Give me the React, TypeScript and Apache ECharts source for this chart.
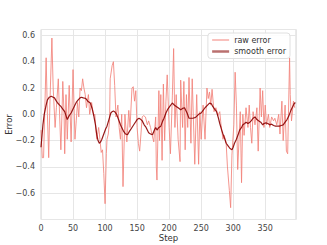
import React, { useEffect, useRef } from "react";
import * as echarts from "echarts";

const rawSteps = [0,2,4,6,8,10,12,14,17,19,22,24,27,29,31,33,34,36,37,39,41,44,47,50,53,55,57,59,61,63,65,67,69,71,74,76,79,82,84,87,90,92,94,96,98,100,102,103,105,107,108,111,113,115,117,120,122,124,126,128,131,134,137,139,142,144,146,148,150,152,154,156,158,160,163,166,168,171,173,176,179,180,181,184,185,187,189,191,193,195,197,200,202,205,207,209,211,214,217,218,221,223,225,227,229,231,234,236,240,243,246,248,250,253,256,259,261,263,265,267,270,273,276,279,281,284,286,289,291,294,296,298,301,303,305,307,309,311,313,315,317,320,323,325,327,329,331,334,337,339,342,344,346,348,350,352,355,357,360,363,365,368,371,373,376,378,381,383,385,388,389,391,394,396];
const rawValues = [-0.12,-0.33,-0.33,0.05,0.43,0.0,-0.33,0.1,0.58,0.2,-0.1,0.05,0.27,0.0,-0.27,0.05,0.25,0.0,-0.3,0.15,-0.19,0.22,-0.21,0.34,-0.19,-0.05,0.09,-0.02,0.2,0.18,0.27,0.2,0.15,0.05,0.15,0.0,0.09,-0.01,0.0,-0.19,-0.1,-0.19,-0.29,-0.27,-0.45,-0.68,-0.3,-0.19,-0.15,-0.05,0.27,0.37,0.4,0.22,-0.02,0.07,-0.1,-0.19,0.0,-0.55,0.0,-0.21,0.03,-0.1,0.2,0.21,0.1,0.18,-0.1,-0.22,-0.28,-0.15,-0.02,-0.01,-0.02,-0.08,-0.05,-0.1,-0.15,-0.21,-0.02,-0.4,-0.5,0.18,-0.2,0.15,-0.35,0.23,-0.2,0.1,0.3,-0.1,-0.3,0.14,0.5,-0.1,0.15,-0.19,-0.36,0.26,-0.1,0.25,-0.27,0.15,-0.1,0.28,-0.22,0.27,-0.38,0.15,-0.38,0.02,-0.19,0.07,-0.19,0.2,0.12,0.17,0.07,0.19,0.02,0.05,-0.01,0.02,-0.08,-0.19,-0.16,-0.22,-0.4,-0.58,-0.71,-0.31,-0.08,0.32,0.07,-0.42,-0.2,0.02,-0.52,0.0,-0.16,0.05,-0.1,0.07,-0.1,-0.22,0.02,-0.08,0.05,-0.28,0.2,-0.02,0.18,-0.1,0.07,-0.08,0.0,-0.1,-0.02,-0.05,-0.03,-0.08,0.0,-0.15,0.1,-0.2,0.07,-0.28,-0.3,0.43,0.15,-0.05,0.1,0.05];

const smoothSteps = [0,3,5,8,10,13,16,19,21,24,26,29,31,34,37,39,41,44,47,50,53,55,58,61,63,66,70,73,77,80,82,85,87,89,91,93,95,98,101,103,106,109,111,113,115,118,121,124,126,129,132,135,138,142,146,150,153,156,158,161,164,168,171,174,177,179,181,184,187,190,192,195,198,201,205,208,211,214,218,221,224,228,231,234,237,240,242,246,250,253,256,260,263,266,268,271,274,277,279,282,284,287,289,292,295,298,300,302,305,308,310,313,315,318,320,323,326,328,331,334,337,340,343,346,348,351,354,357,360,363,366,369,372,375,378,381,384,387,390,392,395,397];
const smoothValues = [-0.25,-0.08,0.0,0.07,0.11,0.13,0.137,0.13,0.125,0.1,0.086,0.07,0.06,0.04,0.02,-0.01,-0.04,-0.01,0.01,0.04,0.07,0.09,0.11,0.125,0.13,0.125,0.12,0.1,0.086,0.04,0.0,-0.08,-0.155,-0.2,-0.22,-0.21,-0.19,-0.15,-0.11,-0.09,-0.04,0.01,0.02,0.025,0.02,0.0,-0.04,-0.08,-0.1,-0.13,-0.15,-0.155,-0.13,-0.1,-0.07,-0.04,-0.03,-0.04,-0.05,-0.08,-0.1,-0.14,-0.15,-0.155,-0.12,-0.1,-0.12,-0.1,-0.09,-0.05,-0.03,0.01,0.04,0.06,0.086,0.07,0.06,0.05,0.035,0.045,0.05,0.01,-0.03,-0.03,-0.03,-0.025,-0.02,0.0,0.01,0.03,0.05,0.07,0.085,0.08,0.06,0.04,0.02,-0.03,-0.07,-0.12,-0.15,-0.19,-0.22,-0.24,-0.26,-0.27,-0.25,-0.22,-0.19,-0.15,-0.12,-0.1,-0.08,-0.07,-0.06,-0.07,-0.06,-0.05,-0.03,-0.02,-0.04,-0.05,-0.06,-0.08,-0.07,-0.065,-0.07,-0.08,-0.075,-0.085,-0.09,-0.09,-0.09,-0.085,-0.08,-0.06,-0.04,-0.01,0.03,0.05,0.08,0.09];

const xTicks = [0, 50, 100, 150, 200, 250, 300, 350];
const seriesNames = ["raw error", "smooth error"];

const FONT = "DejaVu Sans";
const fmt = (v: number) => (v < 0 ? "\u2212" + Math.abs(v).toFixed(1) : v.toFixed(1));

export default function App() {
  const ref = useRef<HTMLDivElement>(null);
  useEffect(() => {
    if (!ref.current) return;
    const chart = echarts.init(ref.current, undefined, { renderer: "svg" });
    const raw = rawSteps.map((s, i) => [s, rawValues[i]]);
    const smooth = smoothSteps.map((s, i) => [s, smoothValues[i]]);
    chart.setOption({
      animation: false,
      backgroundColor: "#ffffff",
      textStyle: { fontFamily: FONT },
      grid: {
        left: 41,
        right: 31,
        top: 29.5,
        bottom: 25.5,
        show: true,
        borderColor: "#d4d4d4",
        borderWidth: 1,
        containLabel: false,
        outerBoundsMode: "none",
      },
      legend: {
        data: [
          { name: seriesNames[0], itemStyle: { opacity: 0 }, lineStyle: { width: 1.2, color: "#f2837a" } },
          { name: seriesNames[1], itemStyle: { opacity: 0 }, lineStyle: { width: 2.5, color: "#b3615f" } },
        ],
        orient: "vertical",
        right: 37,
        top: 33,
        itemWidth: 17,
        itemHeight: 8,
        itemGap: 3.5,
        padding: [3, 4, 3, 3],
        backgroundColor: "rgba(255,255,255,0.85)",
        borderColor: "#e0e0e0",
        borderWidth: 1,
        borderRadius: 3,
        textStyle: { fontFamily: FONT, fontSize: 8, color: "#333" },
      },
      xAxis: {
        type: "value",
        min: 0,
        max: 398,
        interval: 50,
        name: "Step",
        nameLocation: "middle",
        nameGap: 14,
        nameMoveOverlap: false,
        nameTextStyle: { fontFamily: FONT, fontSize: 8.5, color: "#333" },
        axisLine: { show: false },
        axisTick: { show: false },
        axisLabel: {
          fontFamily: FONT,
          fontSize: 8,
          color: "#444",
          margin: 5,
          showMaxLabel: false,
          formatter: (v: number) => (xTicks.includes(v) ? String(v) : ""),
        },
        splitLine: { show: true, lineStyle: { color: "#e6e6e6", width: 1 } },
      },
      yAxis: {
        type: "value",
        min: -0.8,
        max: 0.645,
        interval: 0.2,
        name: "Error",
        nameLocation: "middle",
        nameGap: 28,
        nameMoveOverlap: false,
        nameTextStyle: { fontFamily: FONT, fontSize: 8.5, color: "#333" },
        axisLine: { show: false },
        axisTick: { show: false },
        axisLabel: {
          fontFamily: FONT,
          fontSize: 8,
          color: "#444",
          margin: 6,
          showMinLabel: false,
          showMaxLabel: false,
          formatter: (v: number) => fmt(v),
        },
        splitLine: { show: true, lineStyle: { color: "#e6e6e6", width: 1 } },
      },
      series: [
        {
          name: seriesNames[0],
          type: "line",
          data: raw,
          showSymbol: false,
          symbol: "none",
          color: "#f2837a",
          lineStyle: { color: "#f2837a", width: 1, opacity: 0.85 },
          z: 2,
        },
        {
          name: seriesNames[1],
          type: "line",
          data: smooth,
          showSymbol: false,
          symbol: "none",
          color: "#8b0000",
          lineStyle: { color: "#8b0000", width: 1.2, opacity: 0.9 },
          z: 3,
        },
      ],
    });
    return () => chart.dispose();
  }, []);
  return <div ref={ref} style={{ width: 327, height: 245, position: "absolute", left: 0, top: 0 }} />;
}
